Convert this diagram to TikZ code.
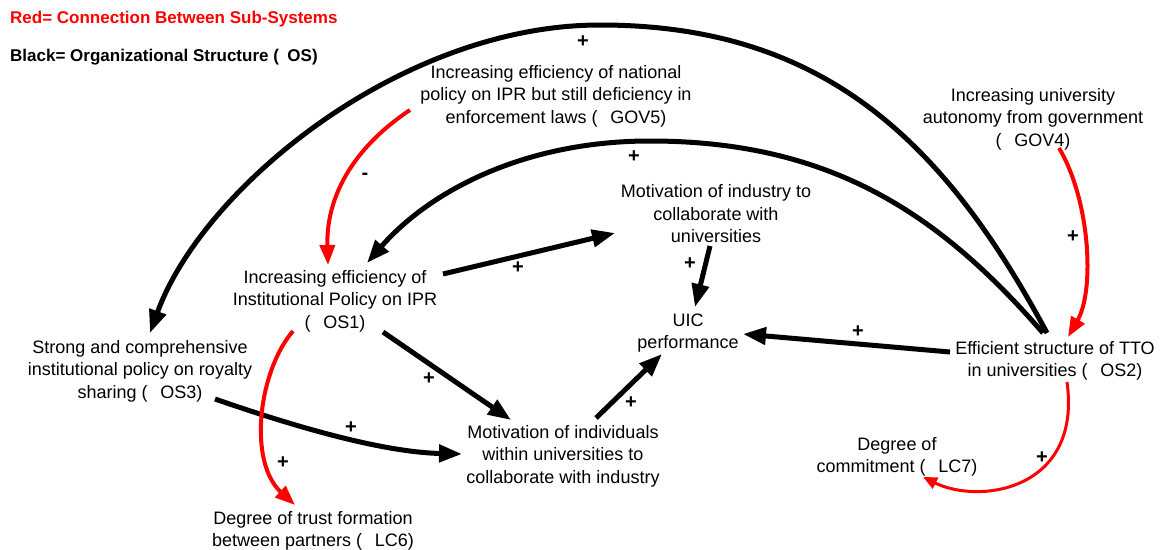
\documentclass[tikz,border=0pt]{standalone}
\usepackage{fontspec}
\setmainfont{Liberation Sans}
\usetikzlibrary{arrows.meta,calc}
\newcommand{\sgap}{\hspace{0.7em}}
\begin{document}
\begin{tikzpicture}[x=1pt,y=-1pt,
  var/.style={align=center,inner sep=0pt,font=\fontsize{18}{22.5}\selectfont},
  legend/.style={anchor=base west,inner sep=0pt,font=\fontsize{17}{20}\selectfont\bfseries},
  sign/.style={inner sep=0pt,font=\fontsize{20}{20}\selectfont\bfseries},
  blk/.style={line width=5pt,-{Triangle[length=23pt,width=17pt]}},
  redarr/.style={red,line width=4pt,-{Triangle[length=20pt,width=15pt]}},
  redthin/.style={red,line width=3pt,-{Triangle[length=14pt,width=12pt]}}]
\fill[white] (0,0) rectangle (1167,549);
\useasboundingbox (0,0) rectangle (1167,549);

% legend
\node[legend,text=red] (legred) at (10,23.5) {Red= Connection Between Sub-Systems};
\node[legend] (legblk) at (10,61) {Black= Organizational Structure (\hspace{0.5em}OS)};

% variables
\node[var] (gov5) at (556,96) {Increasing efficiency of national\\policy on IPR but still deficiency in\\enforcement laws (\sgap GOV5)};
\node[var] (gov4) at (1033,119) {Increasing university\\autonomy from government\\(\sgap GOV4)};
\node[var] (ind) at (716,214) {Motivation of industry to\\collaborate with\\universities};
\node[var] (os1) at (335,301) {Increasing efficiency of\\Institutional Policy on IPR\\(\sgap OS1)};
\node[var] (os3) at (140,371) {Strong and comprehensive\\institutional policy on royalty\\sharing (\sgap OS3)};
\node[var] (uic) at (688,333) {UIC\\performance};
\node[var] (indiv) at (563,456) {Motivation of individuals\\within universities to\\collaborate with industry};
\node[var] (os2) at (1055,361) {Efficient structure of TTO\\in universities (\sgap OS2)};
\node[var] (lc7) at (897,457) {Degree of\\commitment (\sgap LC7)};
\node[var] (lc6) at (313,531) {Degree of trust formation\\between partners (\sgap LC6)};

% organisational structure links
\draw[blk] ($(os2)+(-8,-28)$) .. controls (942,137) and (820,25) .. (600,25)
  .. controls (400,25) and (202,189) .. ($(os3)+(10,-38)$);
\draw[blk] ($(os2)+(-12,-28)$) .. controls (939,213) and (830,141) .. (650,141)
  .. controls (520,141) and (427,194) .. ($(os1)+(32,-38)$);
\draw[blk] ($(os1)+(108,-27)$) -- ($(ind)+(-101,19)$);
\draw[blk] ($(ind)+(-6,32)$) -- ($(uic)+(7,-26)$);
\draw[blk] ($(os2)+(-105,-9)$) -- ($(uic)+(55,1)$);
\draw[blk] ($(os1)+(48,31)$) -- ($(indiv)+(-52,-36)$);
\draw[blk] ($(indiv)+(33,-38)$) -- ($(uic)+(-26,21)$);
\draw[blk] ($(os3)+(75,28)$) .. controls (290,425) and (380,452) .. ($(indiv)+(-101,-2)$);

% links between sub-systems
\draw[redarr] ($(gov5)+(-146,14)$) .. controls (350,150) and (326,200) .. ($(os1)+(-7,-36)$);
\draw[redarr] ($(gov4)+(26,29)$) .. controls (1090,200) and (1095,290) .. ($(os2)+(13,-24)$);
\draw[redarr] ($(os1)+(-42,30)$) .. controls (258,372) and (248,462) .. ($(lc6)+(-18,-26)$);
\draw[redthin] ($(os2)+(12,21)$) .. controls (1082,490) and (980,505) .. ($(lc7)+(26,20)$);

% polarities
\node[sign] (sA) at (583,42) {+};
\node[sign] (sB) at (634,157) {+};
\node[sign] (sC) at (365,176) {-};
\node[sign] (sD) at (1073,237) {+};
\node[sign] (sE) at (283,463) {+};
\node[sign] (sF) at (1042,458) {+};
\node[sign] (sG) at (351,428) {+};
\node[sign] (sH) at (518,268) {+};
\node[sign] (sI) at (690,264) {+};
\node[sign] (sJ) at (858,332) {+};
\node[sign] (sK) at (429,379) {+};
\node[sign] (sL) at (631,403) {+};
\end{tikzpicture}
\end{document}
